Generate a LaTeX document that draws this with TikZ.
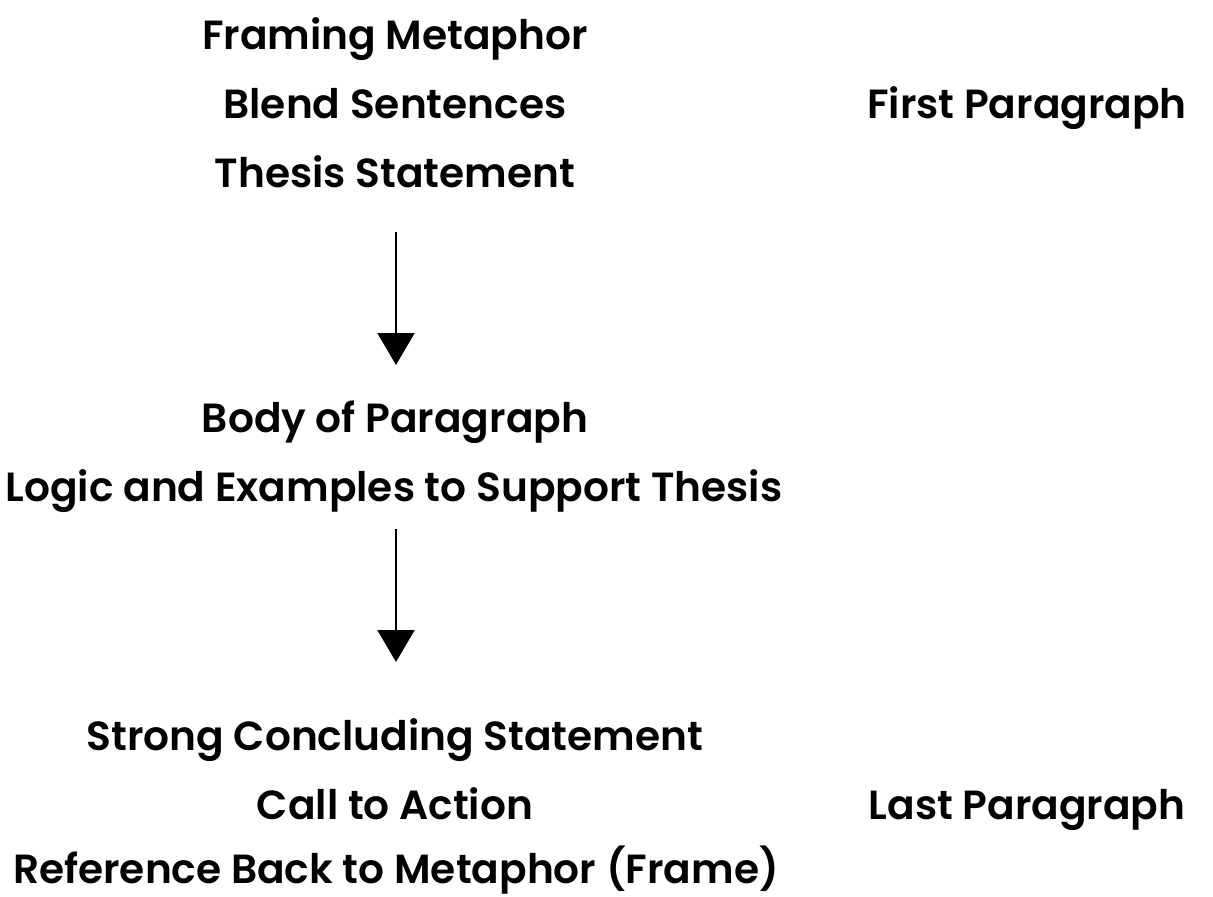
\documentclass[tikz,border=0pt]{standalone}
\usepackage{fontspec}
\setmainfont{Poppins}[UprightFont=* SemiBold]
\usetikzlibrary{arrows.meta}
\begin{document}
\begin{tikzpicture}[x=1pt,y=-1pt,
  lbl/.style={anchor=base,inner sep=0pt,font=\fontsize{40.7}{46}\selectfont},
  flow/.style={line width=2pt,-{Triangle[width=37pt,length=32pt]}}]
\useasboundingbox (0,0) rectangle (1213,897);
\node[lbl] (frm) at (395,49) {Framing Metaphor};
\node[lbl] (bld) at (395,118) {Blend Sentences};
\node[lbl] (ths) at (395,187) {Thesis Statement};
\node[lbl] (fp) at (1027,118) {First Paragraph};
\node[lbl] (bdy) at (395,432) {Body of Paragraph};
\node[lbl] (lgc) at (394,501) {Logic and Examples to Support Thesis};
\node[lbl] (stc) at (395,750) {Strong Concluding Statement};
\node[lbl] (cta) at (395,819) {Call to Action};
\node[lbl] (lp) at (1027,819) {Last Paragraph};
\node[lbl] (ref) at (396,883) {Reference Back to Metaphor (Frame)};
\coordinate (a1s) at (396,232);
\coordinate (a1e) at (396,365);
\coordinate (a2s) at (396,529);
\coordinate (a2e) at (396,662);
\draw[flow] (a1s) -- (a1e);
\draw[flow] (a2s) -- (a2e);
\end{tikzpicture}
\end{document}
